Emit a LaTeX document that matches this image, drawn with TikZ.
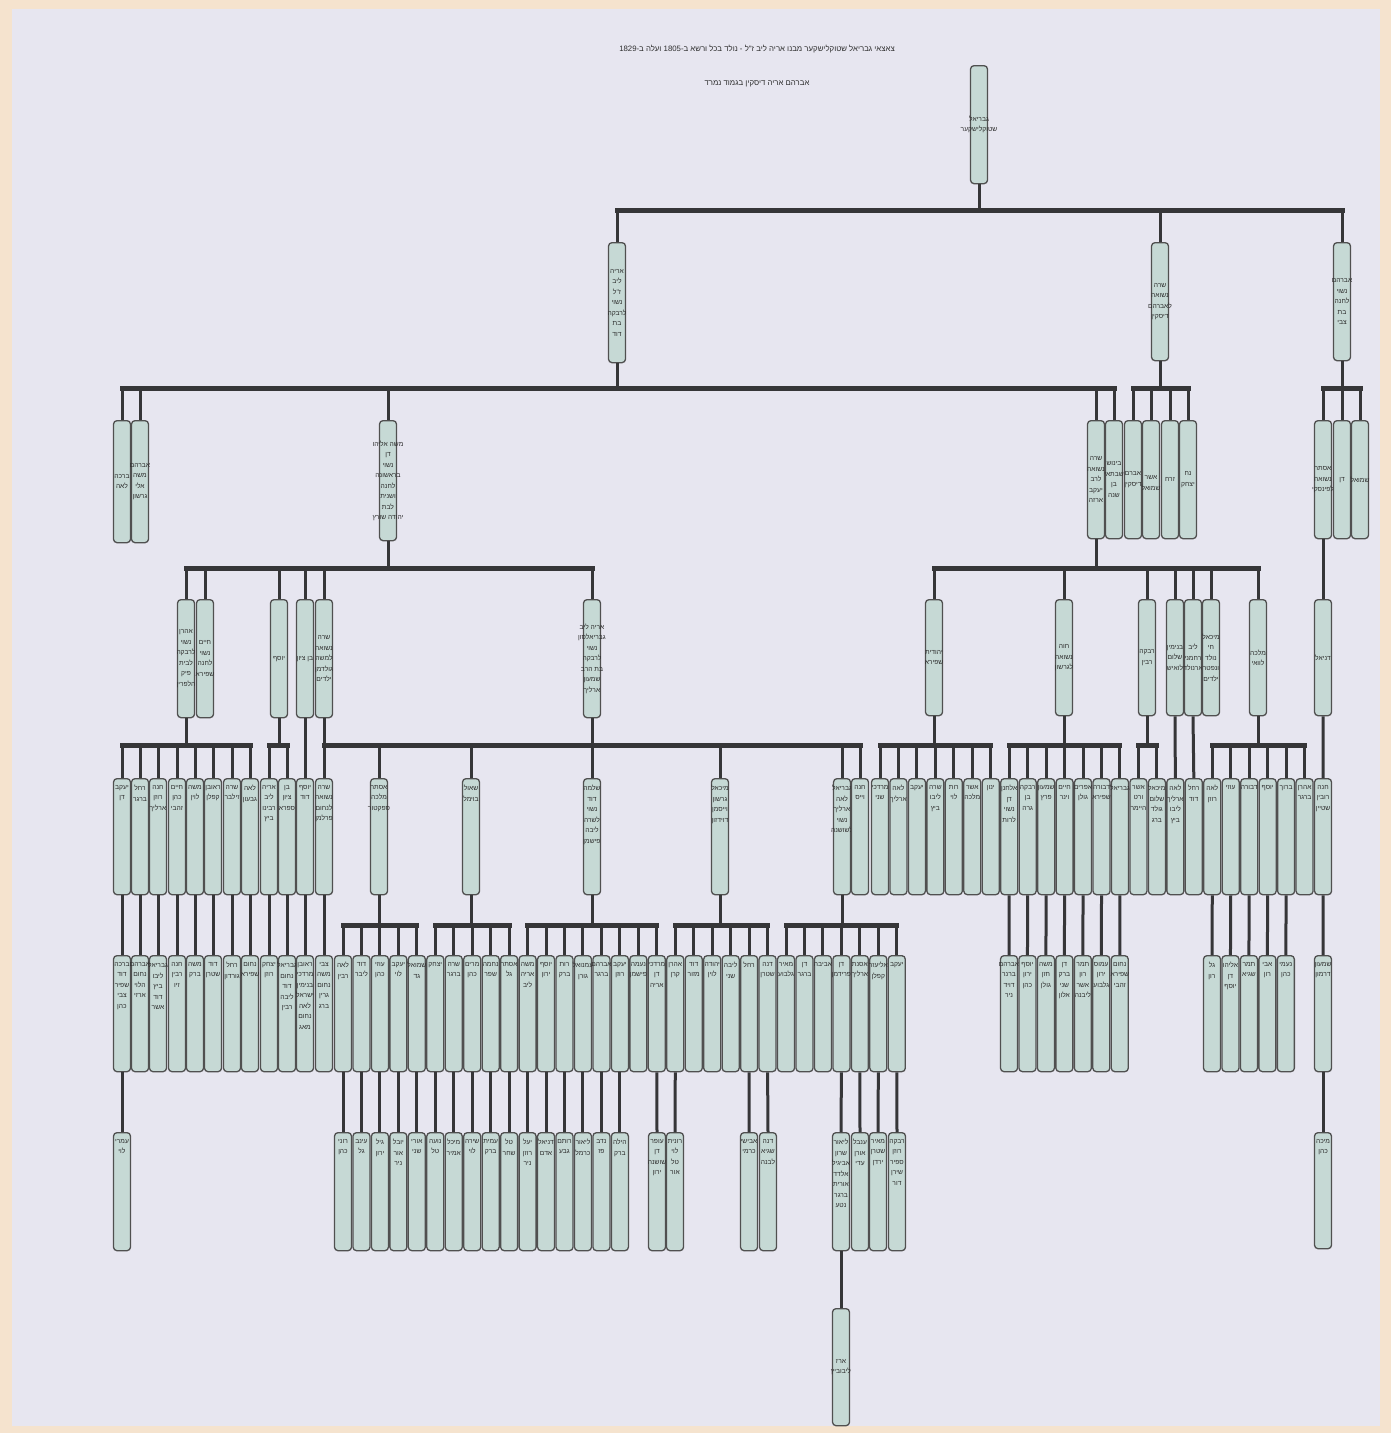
\documentclass[tikz,border=0pt]{standalone}
\usepackage{fontspec}
\setmainfont{Liberation Sans}
\newfontfamily\hfont[Script=Hebrew]{Liberation Sans}
\TeXXeTstate=1
\definecolor{paper}{HTML}{E7E6F0}
\definecolor{rim}{HTML}{F5E3CE}
\definecolor{boxfill}{HTML}{C6D9D5}
\definecolor{boxline}{HTML}{505050}
\definecolor{linec}{HTML}{363638}
\definecolor{txtc}{HTML}{2E2E2E}
\newcommand\R[1]{\beginR#1\endR}
\newcommand\cb[5]{\node[box=#4] (#1) at (#2,#3) {}; \node[lab] (#1t) at (#1.center) {#5};}
\newcommand\tb[5]{\node[box=#4] (#1) at (#2,#3) {}; \node[lab,anchor=north] (#1t) at ([yshift=-7pt]#1.north) {#5};}
\newcommand\drop[3]{\draw[link] (#1.south) |- (#2.north |- 0,#3) -- (#2.north);}
\newcommand\barline[3]{\draw[barl] (#1.north |- 0,#3) -- (#2.north |- 0,#3);}
\newcommand\direct[2]{\draw[link] (#1.south) -- (#2.north);}
\begin{document}
\begin{tikzpicture}[x=1pt,y=-1pt,
  box/.style={draw=boxline, fill=boxfill, rounded corners=3.5pt, line width=1.3pt, minimum width=17pt, minimum height=#1, inner sep=0pt, anchor=north},
  lab/.style={font=\hfont\fontsize{6.7}{10.5}\selectfont, align=center, inner sep=0pt, text=txtc},
  link/.style={draw=linec, line width=3pt, line join=miter},
  barl/.style={draw=linec, line width=5pt, line cap=rect},
  ttl/.style={font=\hfont\fontsize{7.8}{9}\selectfont, text=txtc, inner sep=0pt}]
% background
\fill[rim] (0,0) rectangle (1391,1433);
\fill[paper] (12,9) rectangle (1380,1426);
\useasboundingbox (0,0) rectangle (1391,1433);
% title
\node[ttl] (title1) at (757,49) {\R{צאצאי גבריאל שטוקלישקער מבנו אריה ליב ז"ל - נולד בכל ורשא ב-\beginL 1805\endL{} ועלה ב-\beginL 1829\endL}};
\node[ttl] (title2) at (757,84) {\R{אברהם אריה דיסקין בגמוד נמרד}};
% level 0
\cb{root}{979}{65}{118pt}{גבריאל\\שטוקלישקער}
% level 1
\cb{A}{617}{242}{120pt}{אריה\\ליב\\ז"ל\\נשוי\\לרבקה\\בת\\דוד}
\cb{B}{1160}{242}{118pt}{שרה\\נשואה\\לאברהם\\דיסקין}
\cb{C}{1342}{242}{118pt}{אברהם\\נשוי\\לחנה\\בת\\צבי}
% level 2
\cb{a1}{122}{420}{122pt}{ברכה\\לאה}
\cb{a2}{140}{420}{122pt}{אברהם\\משה\\אלי\\גרשון}
\cb{a3}{388}{420}{120pt}{\R{משה אליהו}\\דן\\נשוי\\בראשונה\\לחנה\\ושנית\\לבת\\\R{יהודה שורץ}}
\cb{a4}{1096}{420}{118pt}{שרה\\נשואה\\לרב\\יעקב\\ארזה}
\cb{a5}{1114}{420}{118pt}{בינוש\\שבתאי\\בן\\שנה}
\cb{b1}{1133}{420}{118pt}{אברם\\דיסקין}
\cb{b2}{1151}{420}{118pt}{\\אשר\\שמואל}
\cb{b3}{1170}{420}{118pt}{זרח}
\cb{b4}{1188}{420}{118pt}{נח\\יצחק}
\cb{c1}{1323}{420}{118pt}{אסתר\\נשואה\\לפינסקי}
\cb{c2}{1342}{420}{118pt}{דן}
\cb{c3}{1360}{420}{118pt}{שמואל}
% level 3
\cb{d1}{186}{599}{118pt}{אהרן\\נשוי\\לרבקה\\לבית\\פיק\\הלפרין}
\cb{d2}{205}{599}{118pt}{חיים\\נשוי\\לחנה\\שפירא}
\cb{d3}{279}{599}{118pt}{יוסף}
\cb{d4}{305}{599}{118pt}{\R{בן ציון}}
\cb{d5}{324}{599}{118pt}{שרה\\נשואה\\למשה\\גולדמן\\ילדים}
\cb{d6}{592}{599}{118pt}{\R{אריה ליב}\\גבריאלסון\\נשוי\\לרבקה\\\R{בת הרב}\\שמעון\\ארליך}
\cb{e1}{934}{599}{116pt}{יהודית\\שפירא}
\cb{e2}{1064}{599}{116pt}{חוה\\נשואה\\לגרשון}
\cb{e3}{1147}{599}{116pt}{רבקה\\רבין}
\cb{e4}{1175}{599}{116pt}{בנימין\\שלום\\לואיש}
\cb{e5}{1193}{599}{116pt}{ליב\\רחמני\\ארנולד}
\cb{e6}{1211}{599}{116pt}{מיכאל\\חי\\נולד\\ונפטר\\ילדים}
\cb{e7}{1258}{599}{116pt}{מלכה\\לוואי}
\cb{f1}{1323}{599}{116pt}{דניאל}
% level 4 left
\foreach \x/\t [count=\i] in {122/{יעקב\\דן},140/{רחל\\ברגר},158/{חנה\\רוזן\\ארליך},177/{חיים\\כהן\\זהבי},195/{משה\\לוין},213/{ראובן\\קפלן},232/{שרה\\זילבר},250/{לאה\\גבעון},269/{אריה\\ליב\\רבינו\\ביץ},287/{בן\\ציון\\ספרא},305/{יוסף\\דוד},324/{שרה\\נשואה\\לנחום\\פרלמן}}
  {\tb{gL\i}{\x}{778}{116pt}{\t}}
% level 4 middle
\foreach \x/\t [count=\i] in {379/{אסתר\\מלכה\\ספקטור},471/{שאול\\בוימל},592/{שלמה\\דוד\\נשוי\\לשרה\\ליבה\\פישמן},720/{מיכאל\\גרשון\\וייסמן\\דוידזון},842/{גבריאל\\לאה\\ארליך\\נשוי\\לשושנה},860/{חנה\\וייס}}
  {\tb{gM\i}{\x}{778}{116pt}{\t}}
% level 4 right
\foreach \t [count=\i] in {{מרדכי\\שני},{לאה\\ארליך},{יעקב},{שרה\\ליבו\\ביץ},{רות\\לוי},{אשר\\מלכה},{ינון},{אלחנן\\דן\\נשוי\\לרות},{רבקה\\בן\\גרה},{שמעון\\פרץ},{חיים\\וינר},{אפרים\\גולן},{דבורה\\שפירא},{גבריאל},{אשר\\ורט\\היימר},{מיכאל\\שלום\\גולד\\ברג},{לאה\\ארליך\\ליבו\\ביץ},{רחל\\דוד},{לאה\\רוזן},{עוזי},{דבורה},{יוסף},{ברוך},{אהרן\\ברגר},{חנה\\רובין\\שטיין}}
  {\pgfmathsetmacro\xx{880+(\i-1)*18.46}\tb{gR\i}{\xx}{778}{116pt}{\t}}
% level 5 left
\foreach \x/\t [count=\i] in {122/{ברכה\\דוד\\שפיר\\צבי\\כהן},140/{אברהם\\נחום\\הלוי\\ארזי},158/{גבריאל\\ליבו\\ביץ\\דוד\\אשר},177/{חנה\\רבין\\זיו},195/{משה\\ברק},213/{דוד\\שטרן},232/{רחל\\גורדון},250/{נחום\\שפירא},269/{יצחק\\רוזן},287/{גבריאל\\נחום\\דוד\\ליבה\\רבין},305/{ראובן\\מרדכי\\בנימין\\ישראל\\לאה\\נחום\\מאג},324/{צבי\\משה\\נחום\\גרין\\ברג}}
  {\tb{hL\i}{\x}{955}{116pt}{\t}}
% level 5 middle
\foreach \t [count=\i] in {{לאה\\רבין},{דוד\\ליבר},{עוזי\\כהן},{יעקב\\לוי},{שמואל\\גד},{יצחק},{שרה\\ברגר},{מרים\\כהן},{נחמה\\שפר},{אסתר\\גל},{משה\\אריה\\ליב},{יוסף\\ירון},{רות\\ברק},{עמנואל\\גורן},{אברהם\\ברגר},{יעקב\\רוזן},{נעמה\\פישמן},{מרדכי\\דן\\אריה},{אהרן\\קרן},{דוד\\מזור},{יהודה\\לוין},{ליבה\\שני},{רחל},{דנה\\שטרן},{מאיר\\גלבוע},{דן\\ברגר},{אביבה},{דן\\פרידמן},{אסנת\\ארליך},{אליעזר\\קפלן},{יעקב}}
  {\pgfmathsetmacro\xx{343+(\i-1)*18.46}\tb{hM\i}{\xx}{955}{116pt}{\t}}
% level 5 right
\foreach \t [count=\i] in {{אברהם\\ברנר\\דויד\\ניר},{יוסף\\ירון\\כהן},{משה\\חזן\\גולן},{דן\\ברק\\שני\\אלון},{תמר\\רון\\אשר\\ליבנה},{עמוס\\ירון\\גלבוע},{נחום\\שפירא\\זהבי}}
  {\pgfmathsetmacro\xx{1009+(\i-1)*18.46}\tb{hR\i}{\xx}{955}{116pt}{\t}}
\foreach \t [count=\i] in {{גל\\רון},{אליהו\\דן\\יוסף},{תמר\\שגיא},{אבי\\רון},{נעמי\\כהן}}
  {\pgfmathsetmacro\xx{1212+(\i-1)*18.46}\tb{hS\i}{\xx}{955}{116pt}{\t}}
\tb{hT}{1323}{955}{116pt}{שמעון\\דרמון}
% level 6
\tb{iA}{122}{1132}{118pt}{עמרי\\לוי}
\foreach \t [count=\i] in {{רוני\\כהן},{עינב\\גל},{גיל\\ירון},{יובל\\אור\\ניר},{אורי\\שני},{נועה\\טל},{מיכל\\אמיר},{שירה\\לוי},{עמית\\ברק},{טל\\שחר},{יעל\\רוזן\\ניר},{דניאל\\אדם},{רותם\\גבע},{ליאור\\כרמל},{נדב\\פז},{הילה\\ברק}}
  {\pgfmathsetmacro\xx{343+(\i-1)*18.46}\tb{iM\i}{\xx}{1132}{118pt}{\t}}
\tb{iN1}{657}{1132}{118pt}{עופר\\דן\\שושנה\\ירון}
\tb{iN2}{675}{1132}{118pt}{רונית\\לוי\\טל\\אור}
\tb{iP1}{749}{1132}{118pt}{אבישי\\כרמי}
\tb{iP2}{768}{1132}{118pt}{דנה\\שגיא\\לבנה}
\tb{iQ1}{841}{1132}{118pt}{ליאור\\שרון\\אביגיל\\אלדד\\אורית\\ברגר\\נטע}
\tb{iQ2}{860}{1132}{118pt}{ענבל\\אורן\\עדי}
\tb{iQ3}{878}{1132}{118pt}{מאיר\\שטרן\\ירדן}
\tb{iQ4}{897}{1132}{118pt}{רבקה\\רוזן\\ספיר\\שירן\\דור}
\tb{iT}{1323}{1132}{116pt}{מיכה\\כהן}
% level 7
\cb{jQ}{841}{1308}{117pt}{ארז\\ליבוביץ}
% ---------- connectors ----------
\foreach \c in {A,B,C}{\drop{root}{\c}{210}}
\barline{A}{C}{210}
\foreach \c in {a1,a2,a3,a4,a5}{\drop{A}{\c}{388}}
\barline{a1}{a5}{388}
\foreach \c in {b1,b2,b3,b4}{\drop{B}{\c}{388}}
\barline{b1}{b4}{388}
\foreach \c in {c1,c2,c3}{\drop{C}{\c}{388}}
\barline{c1}{c3}{388}
\foreach \c in {d1,d2,d3,d4,d5,d6}{\drop{a3}{\c}{568}}
\barline{d1}{d6}{568}
\foreach \c in {e1,e2,e3,e4,e5,e6,e7}{\drop{a4}{\c}{568}}
\barline{e1}{e7}{568}
\direct{c1}{f1}
\foreach \i in {1,...,8}{\drop{d1}{gL\i}{745}}
\barline{gL1}{gL8}{745}
\foreach \i in {9,10}{\drop{d3}{gL\i}{745}}
\barline{gL9}{gL10}{745}
\direct{d4}{gL11}
\direct{d5}{gL12}
\drop{d6}{gL12}{745}
\foreach \i in {1,...,6}{\drop{d6}{gM\i}{745}}
\barline{gL12}{gM6}{745}
\foreach \i in {1,...,7}{\drop{e1}{gR\i}{745}}
\barline{gR1}{gR7}{745}
\foreach \i in {8,...,14}{\drop{e2}{gR\i}{745}}
\barline{gR8}{gR14}{745}
\foreach \i in {15,16}{\drop{e3}{gR\i}{745}}
\barline{gR15}{gR16}{745}
\direct{e4}{gR17}
\direct{e5}{gR18}
\foreach \i in {19,...,24}{\drop{e7}{gR\i}{745}}
\barline{gR19}{gR24}{745}
\direct{f1}{gR25}
\foreach \i in {1,...,12}{\direct{gL\i}{hL\i}}
\foreach \i in {1,...,5}{\drop{gM1}{hM\i}{925}}
\barline{hM1}{hM5}{925}
\foreach \i in {6,...,10}{\drop{gM2}{hM\i}{925}}
\barline{hM6}{hM10}{925}
\foreach \i in {11,...,18}{\drop{gM3}{hM\i}{925}}
\barline{hM11}{hM18}{925}
\foreach \i in {19,...,24}{\drop{gM4}{hM\i}{925}}
\barline{hM19}{hM24}{925}
\foreach \i in {25,...,31}{\drop{gM5}{hM\i}{925}}
\barline{hM25}{hM31}{925}
\foreach \i [evaluate=\i as \j using int(\i+7)] in {1,...,7}{\direct{gR\j}{hR\i}}
\foreach \i [evaluate=\i as \j using int(\i+18)] in {1,...,5}{\direct{gR\j}{hS\i}}
\direct{gR25}{hT}
\direct{hL1}{iA}
\foreach \i in {1,...,16}{\direct{hM\i}{iM\i}}
\direct{hM18}{iN1}
\direct{hM19}{iN2}
\direct{hM23}{iP1}
\direct{hM24}{iP2}
\direct{hM28}{iQ1}
\direct{hM29}{iQ2}
\direct{hM30}{iQ3}
\direct{hM31}{iQ4}
\direct{hT}{iT}
\direct{iQ1}{jQ}
\end{tikzpicture}
\end{document}
